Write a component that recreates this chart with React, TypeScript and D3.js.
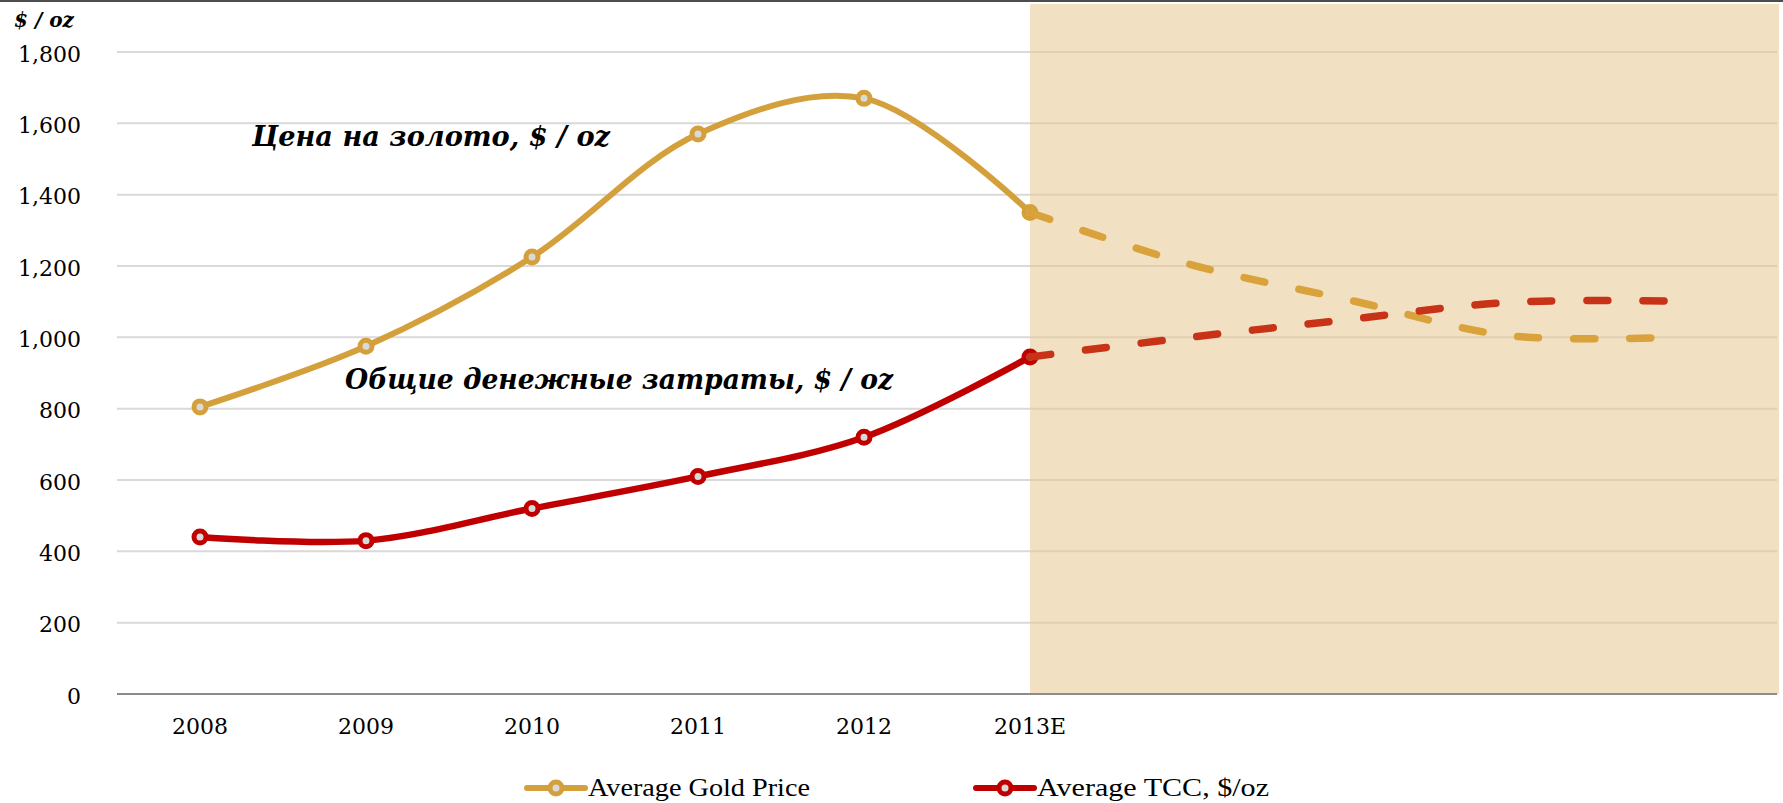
import React, { useEffect, useRef } from "react";
import * as d3 from "d3";

// categories (10 slots on the axis, only the first six carry a label)
const yearLabels = ["2008", "2009", "2010", "2011", "2012", "2013E", "", "", "", ""];
const actualIdx = [0, 1, 2, 3, 4, 5];
const goldPrice = [805, 975, 1225, 1570, 1670, 1350];
const tccCost = [440, 430, 520, 610, 720, 945];

// forecast (dashed) part, starts at 2013E; its points sit a bit closer than the slots
const forecastIdx = [5, 5.96, 6.92, 7.88, 8.84];
const goldForecast = [1350, 1205, 1105, 1005, 1000];
const tccForecast = [945, 1000, 1050, 1098, 1102];

const yTicks = [0, 200, 400, 600, 800, 1000, 1200, 1400, 1600, 1800];
const shadeFrom = 5; // 2013E slot centre onwards

const W = 1783;
const H = 803;
const serif = "'DejaVu Serif', 'Liberation Serif', serif";

const GOLD = "#d4a03c";
const GOLD_DASH = "#d9a23b";
const RED = "#c00000";
const RED_DASH = "#c83216";

export default function App() {
  const ref = useRef<SVGSVGElement>(null);

  useEffect(() => {
    document.body.style.margin = "0";
    const svg = d3.select(ref.current);
    svg.selectAll("*").remove();

    const left = 117;
    const right = 1777;
    const top = 52;
    const bottom = 694;

    const x = d3
      .scaleBand<number>()
      .domain(d3.range(yearLabels.length))
      .range([left, right]);
    const xPos = d3
      .scaleLinear()
      .domain([-0.5, yearLabels.length - 0.5])
      .range([left, right]);
    const y = d3.scaleLinear().domain([0, 1800]).range([bottom, top]);

    // dark strip at top
    svg.append("rect").attr("x", 0).attr("y", 0).attr("width", W).attr("height", 2).attr("fill", "#4d4d4d");

    // gridlines
    svg
      .append("g")
      .selectAll("line")
      .data(yTicks.filter((d) => d > 0))
      .join("line")
      .attr("x1", left)
      .attr("x2", right)
      .attr("y1", (d) => y(d))
      .attr("y2", (d) => y(d))
      .attr("stroke", "#d9d9d9")
      .attr("stroke-width", 2);

    // forecast shading
    svg
      .append("rect")
      .attr("x", xPos(shadeFrom))
      .attr("y", 4)
      .attr("width", right + 2 - xPos(shadeFrom))
      .attr("height", bottom - 4)
      .attr("fill", "#e6c98f")
      .attr("opacity", 0.55);

    // baseline
    svg
      .append("line")
      .attr("x1", left)
      .attr("x2", right)
      .attr("y1", y(0))
      .attr("y2", y(0))
      .attr("stroke", "#8c8c8c")
      .attr("stroke-width", 2);

    // y axis labels
    const yAxis = svg
      .append("g")
      .attr("transform", "translate(81,0)")
      .call(d3.axisLeft(y).tickValues(yTicks).tickFormat(d3.format(",") as any).tickSize(0).tickPadding(0));
    yAxis.select(".domain").remove();
    yAxis
      .selectAll("text")
      .attr("font-family", serif)
      .attr("font-size", 22)
      .attr("fill", "#000")
      .attr("dy", "0.42em");

    // x axis labels
    const xAxis = svg
      .append("g")
      .attr("transform", `translate(0,${bottom})`)
      .call(d3.axisBottom(x).tickFormat((i) => yearLabels[i as number]).tickSize(0).tickPadding(24));
    xAxis.select(".domain").remove();
    xAxis.selectAll("text").attr("font-family", serif).attr("font-size", 22).attr("fill", "#000");

    // unit label
    svg
      .append("text")
      .attr("x", 14)
      .attr("y", 27)
      .attr("font-family", serif)
      .attr("font-weight", "bold")
      .attr("font-style", "italic")
      .attr("font-size", 20)
      .text("$ / oz");

    const curve = d3.curveCatmullRom.alpha(0.5);
    const line = d3
      .line<[number, number]>()
      .x((d) => xPos(d[0]))
      .y((d) => y(d[1]))
      .curve(curve);

    const series = [
      { idx: actualIdx, vals: goldPrice, color: GOLD, width: 6 },
      { idx: actualIdx, vals: tccCost, color: RED, width: 6.5 },
    ];
    series.forEach((s) => {
      const pts = s.idx.map((i, k) => [i, s.vals[k]] as [number, number]);
      svg
        .append("path")
        .attr("d", line(pts))
        .attr("fill", "none")
        .attr("stroke", s.color)
        .attr("stroke-width", s.width)
        .attr("stroke-linecap", "round");
      svg
        .append("g")
        .selectAll("circle")
        .data(pts)
        .join("circle")
        .attr("cx", (d) => xPos(d[0]))
        .attr("cy", (d) => y(d[1]))
        .attr("r", 6)
        .attr("fill", "#d9d9d9")
        .attr("stroke", s.color)
        .attr("stroke-width", 5);
    });

    const forecasts = [
      { vals: goldForecast, color: GOLD_DASH },
      { vals: tccForecast, color: RED_DASH },
    ];
    forecasts.forEach((s) => {
      const pts = forecastIdx.map((i, k) => [i, s.vals[k]] as [number, number]);
      svg
        .append("path")
        .attr("d", line(pts))
        .attr("fill", "none")
        .attr("stroke", s.color)
        .attr("stroke-width", 7.5)
        .attr("stroke-linecap", "round")
        .attr("stroke-dasharray", "21 35");
    });

    // annotations
    const notes = [
      { text: "Цена на золото, $ / oz", x: 252, y: 146, len: 358 },
      { text: "Общие денежные затраты, $ / oz", x: 345, y: 389, len: 548 },
    ];
    notes.forEach((n) => {
      svg
        .append("text")
        .attr("x", n.x)
        .attr("y", n.y)
        .attr("font-family", serif)
        .attr("font-weight", "bold")
        .attr("font-style", "italic")
        .attr("font-size", 27)
        .attr("textLength", n.len)
        .attr("lengthAdjust", "spacingAndGlyphs")
        .text(n.text);
    });

    // legend
    const legend = [
      { label: "Average Gold Price", color: GOLD, x: 527, len: 222 },
      { label: "Average TCC, $/oz", color: RED, x: 976, len: 232 },
    ];
    const ly = 788;
    legend.forEach((l) => {
      const g = svg.append("g").attr("transform", `translate(${l.x},${ly})`);
      g.append("line")
        .attr("x1", 0)
        .attr("x2", 58)
        .attr("stroke", l.color)
        .attr("stroke-width", 6)
        .attr("stroke-linecap", "round");
      g.append("circle")
        .attr("cx", 29)
        .attr("r", 6)
        .attr("fill", "#d9d9d9")
        .attr("stroke", l.color)
        .attr("stroke-width", 5);
      g.append("text")
        .attr("x", 61)
        .attr("y", 8)
        .attr("font-family", "'Liberation Serif', serif")
        .attr("font-size", 25)
        .attr("textLength", l.len)
        .attr("lengthAdjust", "spacingAndGlyphs")
        .text(l.label);
    });
  }, []);

  return (
    <svg
      ref={ref}
      width={W}
      height={H}
      style={{ position: "absolute", left: 0, top: 0, background: "#fff" }}
    />
  );
}
